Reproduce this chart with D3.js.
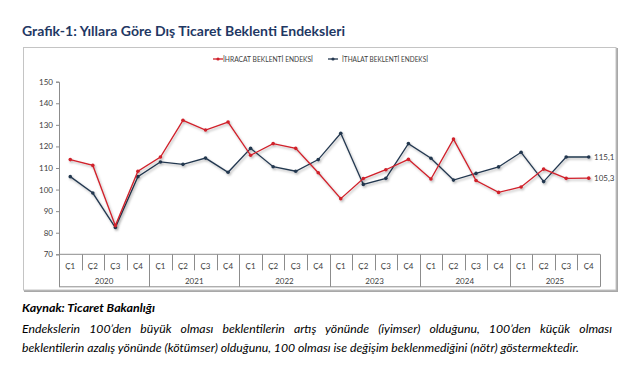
<!DOCTYPE html>
<html><head><meta charset="utf-8">
<script src="https://cdn.jsdelivr.net/npm/d3@7"></script>
<style>body{margin:0;background:#fff;}svg{display:block;}</style>
</head><body>
<svg id="c" width="641" height="380"></svg>
<script>
const quarters = ["Ç1","Ç2","Ç3","Ç4"];
const years = ["2020","2021","2022","2023","2024","2025"];
const yTicks = [70,80,90,100,110,120,130,140,150];
const ihracat = [113.9,111.2,83.3,108.5, 115.1,132.1,127.6,131.3, 115.9,121.3,119.1,107.8, 95.8,105.1,109.2,114.0, 104.9,123.4,104.2,98.7, 101.2,109.5,105.2,105.3];
const ithalat = [106.0,98.4,82.4,106.0, 112.8,111.7,114.6,108.0, 119.1,110.6,108.5,113.9, 126.1,102.4,105.2,121.3, 114.5,104.4,107.5,110.5, 117.3,103.7,115.1,115.1];
const seriesNames = ["İHRACAT BEKLENTİ ENDEKSİ","İTHALAT BEKLENTİ ENDEKSİ"];
const endLabels = ["105,3","115,1"];

const RED = "#d0202a", NAVY = "#243850", AX = "#8c8c8c", TXT = "#404040";
const FONT = "Lato, 'Open Sans', sans-serif";
const svg = d3.select("#c");
const defs = svg.append("defs");
const f = defs.append("filter").attr("id","sh").attr("x","-10%").attr("y","-10%").attr("width","130%").attr("height","130%");
f.append("feDropShadow").attr("dx",1.2).attr("dy",1.6).attr("stdDeviation",0.9).attr("flood-color","#000").attr("flood-opacity",0.3);

// title
svg.append("text").attr("x",22).attr("y",36).attr("font-family",FONT).attr("font-weight","bold")
  .attr("font-size",14).attr("fill","#1f3864").attr("textLength",323).attr("lengthAdjust","spacingAndGlyphs")
  .text("Grafik-1: Yıllara Göre Dış Ticaret Beklenti Endeksleri");

// chart box
svg.append("line").attr("x1",617).attr("x2",617).attr("y1",48).attr("y2",291).attr("stroke","#a8a8a8").attr("stroke-width",2);
svg.append("line").attr("x1",24).attr("x2",618).attr("y1",291).attr("y2",291).attr("stroke","#a8a8a8").attr("stroke-width",2);
svg.append("rect").attr("x",23.5).attr("y",47.5).attr("width",592.5).attr("height",242.5).attr("fill","#fff").attr("stroke","#c4c4c4");

const n = ihracat.length;
const x = d3.scaleBand().domain(d3.range(n)).range([59,600]).padding(0);
const y = d3.scaleLinear().domain([70,150]).range([254.3,81.7]);
const cx = i => x(i) + x.bandwidth()/2;

// y axis
const ya = svg.append("g").attr("transform","translate(59,0)")
  .call(d3.axisLeft(y).tickValues(yTicks).tickSize(3).tickPadding(3).tickFormat(d3.format("d")));
ya.selectAll("path,line").attr("stroke",AX);
ya.selectAll("text").attr("font-family",FONT).attr("font-size",8).attr("fill",TXT);

// category axis (table style)
const y0 = y(70), bw = x.bandwidth();
const cat = svg.append("g").attr("stroke",AX).attr("stroke-width",1);
cat.append("line").attr("x1",59).attr("x2",600).attr("y1",y0).attr("y2",y0);
cat.append("line").attr("x1",59).attr("x2",600).attr("y1",y0+32.5).attr("y2",y0+32.5);
for (let i=0;i<=n;i++){
  const bx = Math.round(59 + i*bw)+0.5;
  cat.append("line").attr("x1",bx).attr("x2",bx).attr("y1",y0).attr("y2", i%4===0 ? y0+32.5 : y0+16);
}
svg.append("g").selectAll("text").data(d3.range(n)).join("text")
  .attr("x",i=>cx(i)).attr("y",y0+14.5).attr("text-anchor","middle")
  .attr("font-family",FONT).attr("font-size",8).attr("fill",TXT).text(i=>quarters[i%4]);
svg.append("g").selectAll("text").data(years).join("text")
  .attr("x",(d,k)=>59 + (k*4+2)*bw).attr("y",y0+30).attr("text-anchor","middle")
  .attr("font-family",FONT).attr("font-size",8).attr("fill",TXT).text(d=>d);

// lines
const line = d3.line().x((d,i)=>cx(i)).y(d=>y(d));
[[ithalat,NAVY],[ihracat,RED]].forEach(([data,col])=>{
  const g = svg.append("g").attr("filter","url(#sh)");
  g.append("path").datum(data).attr("d",line).attr("fill","none").attr("stroke",col).attr("stroke-width",1.3).attr("stroke-linejoin","miter");
  g.selectAll("circle").data(data).join("circle").attr("cx",(d,i)=>cx(i)).attr("cy",d=>y(d)).attr("r",1.8).attr("fill",col);
});

// end labels
svg.append("text").attr("x",594).attr("y",y(ithalat[n-1])+3).attr("font-family",FONT).attr("font-size",8).attr("fill",TXT).text(endLabels[1]);
svg.append("text").attr("x",594).attr("y",y(ihracat[n-1])+3).attr("font-family",FONT).attr("font-size",8).attr("fill",TXT).text(endLabels[0]);

// legend
const leg = [[RED,213,223,90,seriesNames[0]],[NAVY,328,342,86,seriesNames[1]]];
leg.forEach(([col,lx,tx,tl,name])=>{
  svg.append("line").attr("x1",lx).attr("x2",lx+10).attr("y1",59).attr("y2",59).attr("stroke",col).attr("stroke-width",1.3);
  svg.append("circle").attr("cx",lx+5).attr("cy",59).attr("r",1.6).attr("fill",col);
  svg.append("text").attr("x",tx).attr("y",61.8).attr("font-family",FONT).attr("font-size",7.5).attr("fill",TXT)
    .attr("textLength",tl).attr("lengthAdjust","spacingAndGlyphs").text(name);
});

// footer
svg.append("text").attr("x",22).attr("y",312).attr("font-family",FONT).attr("font-size",11).attr("font-weight","bold").attr("font-style","italic")
  .attr("fill","#000").attr("textLength",133).attr("lengthAdjust","spacingAndGlyphs").text("Kaynak: Ticaret Bakanlığı");
const p2 = svg.append("text").attr("x",22).attr("y",352).attr("font-family",FONT).attr("font-size",11).attr("font-style","italic")
  .attr("fill","#000")
  .text("beklentilerin azalış yönünde (kötümser) olduğunu, 100 olması ise değişim beklenmediğini (nötr) göstermektedir.");
const fs = 11 * 557 / p2.node().getComputedTextLength();
p2.attr("font-size", fs);
const p1 = svg.append("text").attr("x",22).attr("y",333).attr("font-family",FONT).attr("font-size",fs).attr("font-style","italic")
  .attr("fill","#000")
  .text("Endekslerin 100’den büyük olması beklentilerin artış yönünde (iyimser) olduğunu, 100’den küçük olması");
const w1 = p1.node().getComputedTextLength();
const spaces = (p1.text().match(/ /g)||[]).length;
p1.attr("word-spacing", Math.max(0,(590 - w1)/spaces));
</script>
</body></html>
